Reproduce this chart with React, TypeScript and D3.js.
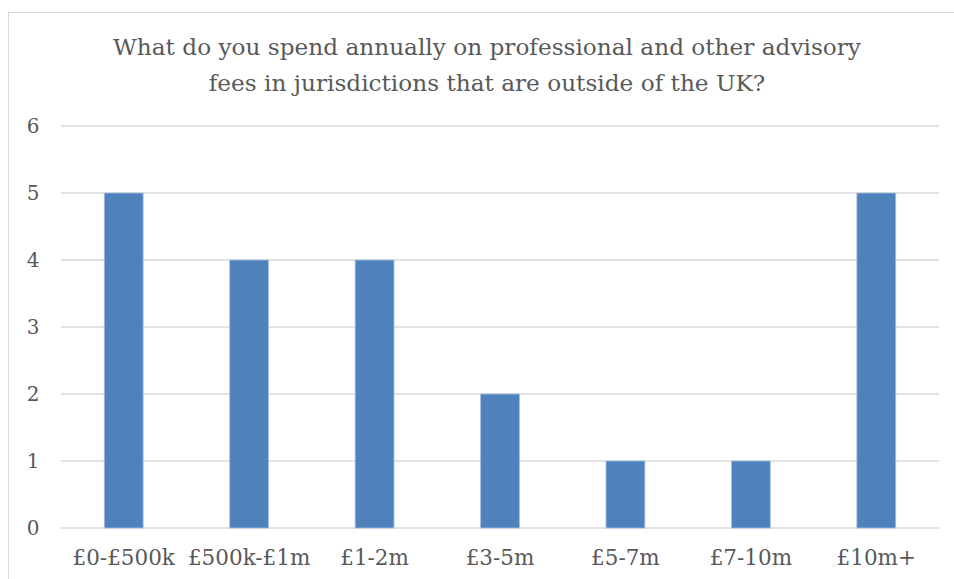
import React from "react";
import * as d3 from "d3";

const categories = ["£0-£500k", "£500k-£1m", "£1-2m", "£3-5m", "£5-7m", "£7-10m", "£10m+"];
const values = [5, 4, 4, 2, 1, 1, 5];
const yTicks = [0, 1, 2, 3, 4, 5, 6];
const titleLines = [
  "What do you spend annually on professional and other advisory",
  "fees in jurisdictions that are outside of the UK?",
];

const W = 954;
const H = 579;
const left = 61;
const right = 939;
const top = 126;
const bottom = 528;
const FONT = "'DejaVu Serif', Georgia, serif";

export default function App() {
  const x = d3.scaleBand<string>().domain(categories).range([left, right]).paddingInner(0.69).paddingOuter(0.345);
  const y = d3.scaleLinear().domain([0, 6]).range([bottom, top]);
  return (
    <svg width={W} height={H} style={{ position: "absolute", left: 0, top: 0, background: "#fff" }}>
      <rect x={8.5} y={12.5} width={W + 10} height={H + 10} fill="#fff" stroke="#d9d9d9" strokeWidth={1} />
      {titleLines.map((t, i) => (
        <text key={i} x={487} y={55 + i * 36} textAnchor="middle" fontFamily={FONT} fontSize={23.2} fill="#595959">
          {t}
        </text>
      ))}
      {yTicks.map((t) => (
        <g key={t}>
          <line x1={left} x2={right} y1={y(t)} y2={y(t)} stroke="#d9d9d9" strokeWidth={1.5} />
          <text x={33} y={y(t) + 7} textAnchor="middle" fontFamily={FONT} fontSize={20} fill="#595959">
            {t}
          </text>
        </g>
      ))}
      {categories.map((c, i) => (
        <rect
          key={c}
          x={x(c)}
          y={y(values[i])}
          width={x.bandwidth()}
          height={y(0) - y(values[i])}
          fill="#4f81bd"
          stroke="#a9c0e0"
          strokeWidth={0.8}
        />
      ))}
      {categories.map((c) => (
        <text key={c} x={(x(c) as number) + x.bandwidth() / 2} y={565} textAnchor="middle" fontFamily={FONT} fontSize={21.5} fill="#595959">
          {c}
        </text>
      ))}
    </svg>
  );
}
